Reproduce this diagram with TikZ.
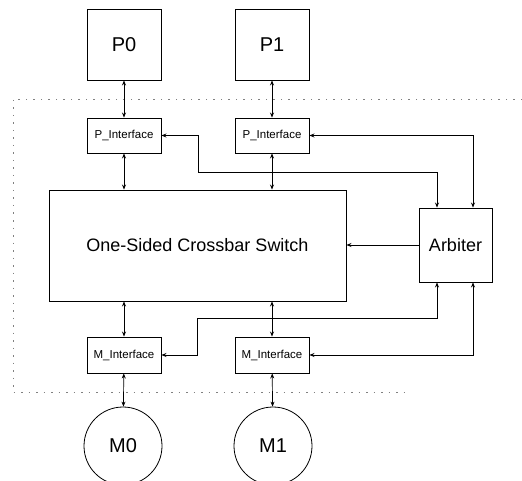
\documentclass[tikz,border=0pt]{standalone}
\usepackage{fontspec}
\setmainfont{Liberation Sans}
\usetikzlibrary{arrows.meta}
\begin{document}
\begin{tikzpicture}[x=1pt,y=-1pt,
  box/.style={draw,line width=0.9pt,inner sep=0pt,anchor=center},
  conn/.style={line width=0.7pt,{Stealth[length=5pt,width=4pt]}-{Stealth[length=5pt,width=4pt]}},
  oneway/.style={line width=0.7pt,-{Stealth[length=5pt,width=4pt]}},
  bound/.style={gray,line width=0.8pt,dash pattern=on 1.5pt off 6pt}]
\useasboundingbox (0,0) rectangle (522,481);
% boundary
\coordinate (btl) at (13,99);
\coordinate (btr) at (522,99);
\coordinate (bbl) at (13,392);
\coordinate (bbr) at (408,392);
\draw[bound] (btr) -- (btl) -- (bbl) -- (bbr);
% nodes
\node[box,minimum width=74pt,minimum height=71pt,font=\fontsize{20}{24}\selectfont] (p0) at (124,44.5) {P0};
\node[box,minimum width=74pt,minimum height=71pt,font=\fontsize{20}{24}\selectfont] (p1) at (272,44.5) {P1};
\node[box,minimum width=74pt,minimum height=35pt,font=\fontsize{11.5}{13}\selectfont] (pi0) at (124,135.5) {P\_Interface};
\node[box,minimum width=74pt,minimum height=35pt,font=\fontsize{11.5}{13}\selectfont] (pi1) at (272,135.5) {P\_Interface};
\node[box,minimum width=297pt,minimum height=111pt,font=\fontsize{18}{22}\selectfont] (xbar) at (197.5,245.5) {One-Sided Crossbar Switch};
\node[box,minimum width=73pt,minimum height=74pt,font=\fontsize{18}{22}\selectfont] (arb) at (455.5,245) {Arbiter};
\node[box,minimum width=74pt,minimum height=36pt,font=\fontsize{11.5}{13}\selectfont] (mi0) at (124,355) {M\_Interface};
\node[box,minimum width=74pt,minimum height=36pt,font=\fontsize{11.5}{13}\selectfont] (mi1) at (272,355) {M\_Interface};
\node[box,circle,line width=0.8pt,minimum size=78pt,font=\fontsize{20}{24}\selectfont] (m0) at (123,446) {M0};
\node[box,circle,line width=0.8pt,minimum size=78pt,font=\fontsize{20}{24}\selectfont] (m1) at (273,446) {M1};
% vertical connectors
\draw[conn] (p0) -- (pi0);
\draw[conn] (p1) -- (pi1);
\draw[conn] (pi0) -- (pi0 |- xbar.north);
\draw[conn] (pi1) -- (pi1 |- xbar.north);
\draw[conn] (mi0 |- xbar.south) -- (mi0);
\draw[conn] (mi1 |- xbar.south) -- (mi1);
\draw[conn] (mi0) -- (m0);
\draw[conn] (mi1) -- (m1);
% arbiter connections
\coordinate (at1) at ([xshift=-18.5pt]arb.north);
\coordinate (at2) at ([xshift=17.5pt]arb.north);
\coordinate (ab1) at ([xshift=-18.5pt]arb.south);
\coordinate (ab2) at ([xshift=17.5pt]arb.south);
\coordinate (k1) at (198,172);
\coordinate (k2) at (197,318);
\draw[conn] (pi0.east) -| (k1) -| (at1);
\draw[conn] (pi1.east) -| (at2);
\draw[conn] (mi0.east) -| (k2) -| (ab1);
\draw[conn] (mi1.east) -| (ab2);
\draw[oneway] (arb.west) -- (xbar.east |- arb.west);
\end{tikzpicture}
\end{document}
